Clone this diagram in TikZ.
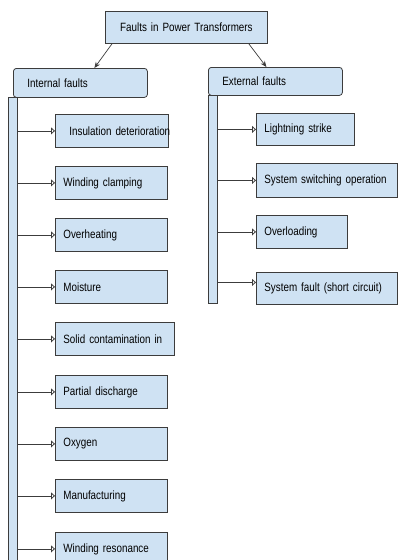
\documentclass[tikz,border=0pt]{standalone}
\usepackage{fontspec}
\setmainfont{Liberation Sans}[FakeStretch=0.82]
\usetikzlibrary{arrows.meta}
\definecolor{boxblue}{HTML}{CFE2F3}
\definecolor{edgegrey}{HTML}{3C3C3C}
\tikzset{
  box/.style={draw=edgegrey, fill=boxblue, line width=0.8pt, minimum height=33pt,
    inner xsep=8pt, inner ysep=0pt, anchor=north west, align=left,
    font=\fontsize{12}{14}\selectfont},
  head/.style={box, rounded corners=3pt, inner xsep=14pt},
  bar/.style={draw=edgegrey, fill=boxblue, line width=0.8pt, minimum width=9pt,
    inner sep=0pt, anchor=north west},
  feed/.style={draw=edgegrey, line width=0.8pt, -{Triangle[open, length=4pt, width=7pt]}},
  down/.style={draw=edgegrey, line width=0.7pt, -{Stealth[length=6pt, width=5pt]}}
}
\begin{document}
\begin{tikzpicture}[x=1pt, y=-1pt]
\useasboundingbox (0,0) rectangle (398,560);
\clip (0,0) rectangle (398,560);
% root
\node[box, align=center, text width=146pt, minimum height=32pt] (root) at (105,11) {Faults in Power Transformers};
% side bars
\node[bar, minimum height=475pt] (barL) at (8,97) {};
\node[bar, minimum height=208pt] (barR) at (208,95) {};
% headers
\node[head, text width=106pt, minimum height=29pt] (intl) at (13,68) {Internal faults};
\node[head, text width=106pt, minimum height=28pt] (extl) at (208,67) {External faults};
\draw[down] ([xshift=7pt]root.south west) -- ([xshift=14pt]intl.north);
\draw[down] ([xshift=-19pt]root.south east) -- ([xshift=-9pt]extl.north);
% internal faults
\node[box, inner xsep=14pt, text width=85pt] (ins) at (55,114) {\mbox{Insulation deterioration}};
\node[box, text width=96pt] (wcl) at (55,166) {Winding clamping};
\node[box, text width=96pt] (ovh) at (55,218) {Overheating};
\node[box, text width=96pt] (moi) at (55,270) {Moisture};
\node[box, text width=103pt] (sol) at (55,322) {Solid contamination in};
\node[box, text width=96pt] (pdc) at (55,375) {Partial discharge};
\node[box, text width=96pt] (oxy) at (55,427) {Oxygen};
\node[box, text width=96pt] (man) at (55,479) {Manufacturing};
\node[box, text width=96pt] (wre) at (55,532) {Winding resonance};
\draw[feed] (barL.east |- ins.west) -- (ins.west);
\draw[feed] (barL.east |- wcl.west) -- (wcl.west);
\draw[feed] (barL.east |- ovh.west) -- (ovh.west);
\draw[feed] (barL.east |- moi.west) -- (moi.west);
\draw[feed] (barL.east |- sol.west) -- (sol.west);
\draw[feed] (barL.east |- pdc.west) -- (pdc.west);
\draw[feed] (barL.east |- oxy.west) -- (oxy.west);
\draw[feed] (barL.east |- man.west) -- (man.west);
\draw[feed] (barL.east |- wre.west) -- (wre.west);
% external faults
\node[box, text width=82pt, minimum height=32pt] (lig) at (256,113) {Lightning strike};
\node[box, text width=125pt, minimum height=34pt] (ssw) at (256,163) {System switching operation};
\node[box, text width=75pt] (ovl) at (256,215) {Overloading};
\node[box, text width=125pt, minimum height=32pt] (sfl) at (256,272) {System fault (short circuit)};
\draw[feed] (barR.east |- lig.west) -- (lig.west);
\draw[feed] (barR.east |- ssw.west) -- (ssw.west);
\draw[feed] (barR.east |- ovl.west) -- (ovl.west);
\draw[feed] ([yshift=6pt]barR.east |- sfl.west) -- ([yshift=6pt]sfl.west);
\end{tikzpicture}
\end{document}
